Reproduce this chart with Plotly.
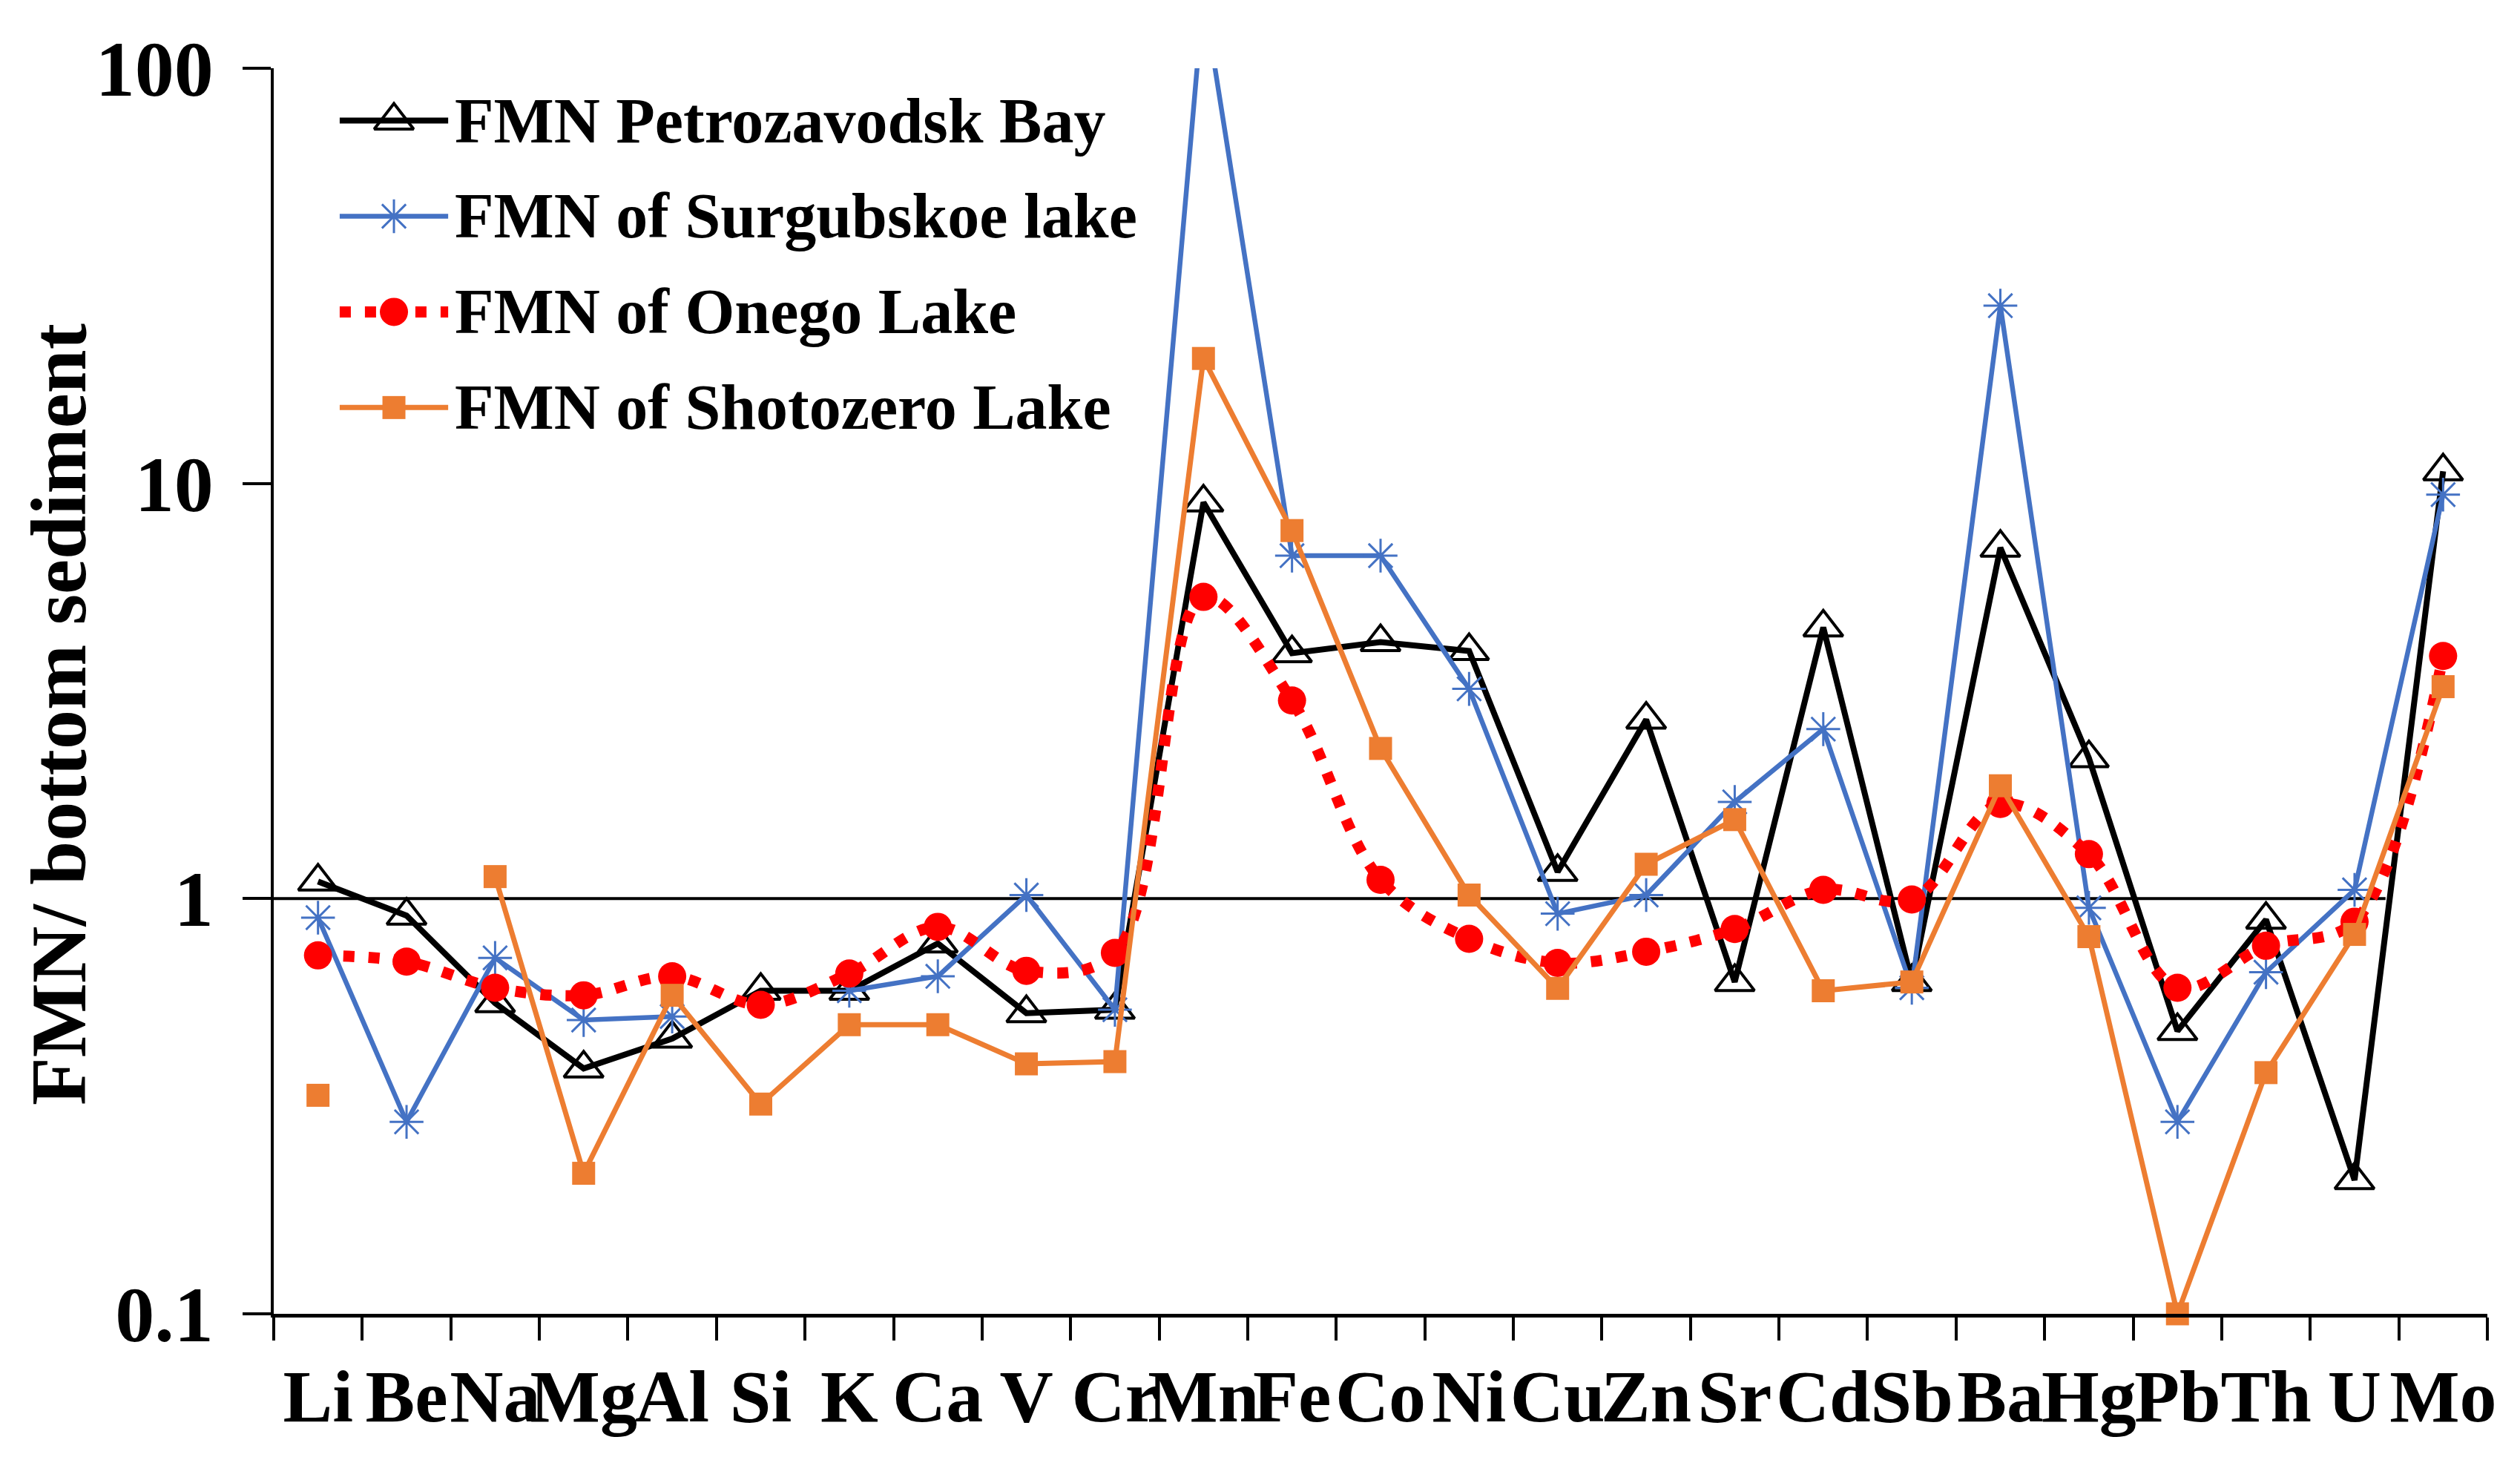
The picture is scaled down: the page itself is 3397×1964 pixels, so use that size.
import plotly.graph_objects as go

# --- data ---
elements = ["Li", "Be", "Na", "Mg", "Al", "Si", "K", "Ca", "V", "Cr", "Mn", "Fe", "Co",
            "Ni", "Cu", "Zn", "Sr", "Cd", "Sb", "Ba", "Hg", "Pb", "Th", "U", "Mo"]

petrozavodsk_bay = [1.10, 0.91, 0.56, 0.39, 0.46, 0.60, 0.60, 0.78, 0.53, 0.54, 9.0, 3.9, 4.15,
                    3.95, 1.16, 2.7, 0.63, 4.5, 0.63, 7.0, 2.18, 0.48, 0.89, 0.21, 10.7]
surgubskoe_lake = [0.90, 0.29, 0.72, 0.51, 0.52, None, 0.60, 0.65, 1.02, 0.54, 150, 6.7, 6.7,
                   3.2, 0.92, 1.02, 1.71, 2.56, 0.61, 26.8, 0.95, 0.29, 0.665, 1.05, 9.4]
onego_lake = [0.73, 0.705, 0.61, 0.585, 0.65, 0.555, 0.66, 0.855, 0.67, 0.74, 5.33, 3.0, 1.11,
              0.80, 0.70, 0.745, 0.845, 1.05, 0.995, 1.69, 1.28, 0.61, 0.77, 0.88, 3.84]
shotozero_lake = [0.336, None, 1.13, 0.218, 0.585, 0.32, 0.497, 0.497, 0.40, 0.405, 20.0, 7.7, 2.3,
                  1.02, 0.608, 1.21, 1.55, 0.60, 0.63, 1.87, 0.81, 0.10, 0.381, 0.82, 3.24]

series_names = ["FMN Petrozavodsk Bay", "FMN of Surgubskoe lake",
                "FMN of Onego Lake", "FMN of Shotozero Lake"]
series_values = [petrozavodsk_bay, surgubskoe_lake, onego_lake, shotozero_lake]

y_tick_values = [0.1, 1, 10, 100]
y_tick_labels = ["0.1", "1", "10", "100"]
reference_level = 1

FONT = "Liberation Serif"

styles = [
    dict(line=dict(color="black", width=8),
         marker=dict(symbol="triangle-up-open", size=46, color="black",
                     line=dict(width=4, color="black"))),
    dict(line=dict(color="#4472C4", width=6.5),
         marker=dict(symbol="asterisk-open", size=38, color="#4472C4",
                     line=dict(width=3, color="#4472C4"))),
    dict(line=dict(color="#FF0000", width=15, dash="15px,19px", shape="spline"),
         marker=dict(symbol="circle", size=38, color="#FF0000")),
    dict(line=dict(color="#ED7D31", width=7),
         marker=dict(symbol="square", size=31, color="#ED7D31")),
]

fig = go.Figure()

for name, values, st in zip(series_names, series_values, styles):
    fig.add_trace(go.Scatter(
        x=elements, y=values, name=name, mode="lines+markers",
        line=st["line"], marker=st["marker"], showlegend=False,
        cliponaxis=(name != "FMN of Shotozero Lake"),
    ))

# hand drawn legend (plotly caps legend marker sizes)
legend_top = 0.958
legend_step = 0.0768
for i, (name, st) in enumerate(zip(series_names, styles)):
    row = legend_top - i * legend_step
    fig.add_trace(go.Scatter(
        x=[0.0298, 0.0788], y=[row, row], mode="lines", line=st["line"],
        xaxis="x2", yaxis="y2", showlegend=False, hoverinfo="skip"))
    fig.add_trace(go.Scatter(
        x=[0.0543], y=[row], mode="markers", marker=st["marker"],
        xaxis="x2", yaxis="y2", showlegend=False, hoverinfo="skip"))
    fig.add_annotation(
        text=name, xref="paper", yref="paper", x=0.081, y=row,
        xanchor="left", yanchor="middle", showarrow=False,
        font=dict(family=FONT, size=86, color="black", weight="bold"))

# horizontal line at FMN / sediment = 1
fig.add_shape(type="line", xref="paper", yref="y", x0=0, x1=0.954,
              y0=reference_level, y1=reference_level,
              line=dict(color="black", width=4), layer="below")

fig.add_annotation(
    text="FMN/ bottom sediment", xref="paper", yref="paper", x=-0.097, y=0.481,
    textangle=-90, xanchor="center", yanchor="middle", showarrow=False,
    font=dict(family=FONT, size=106, color="black", weight="bold"))

# the page body has an 8px margin, so the figure is made 16px smaller
fig.update_layout(
    width=3381, height=1948,
    margin=dict(l=361, r=36, t=84, b=185),
    paper_bgcolor="white", plot_bgcolor="white",
    showlegend=False,
    xaxis=dict(
        type="category", range=[-0.5, len(elements) - 0.5], autorange=False,
        tickmode="linear", tick0=0, dtick=1, automargin=False,
        tickson="boundaries", ticks="outside", ticklen=31, tickwidth=4, tickcolor="black",
        showline=True, linewidth=5, linecolor="black", showgrid=False, zeroline=False,
        tickangle=0, ticklabelstandoff=20,
        tickfont=dict(family=FONT, size=100, color="black", weight="bold"),
    ),
    yaxis=dict(
        type="log", range=[-1, 2], autorange=False, tickmode="array", automargin=False,
        tickvals=y_tick_values, ticktext=y_tick_labels,
        ticks="outside", ticklen=38, tickwidth=4, tickcolor="black",
        showline=True, linewidth=4, linecolor="black", showgrid=False, zeroline=False,
        ticklabelstandoff=18,
        tickfont=dict(family=FONT, size=106, color="black", weight="bold"),
    ),
    xaxis2=dict(overlaying="x", range=[0, 1], visible=False, anchor="y2"),
    yaxis2=dict(overlaying="y", range=[0, 1], visible=False, anchor="x2"),
)

fig.write_html("out.html")
